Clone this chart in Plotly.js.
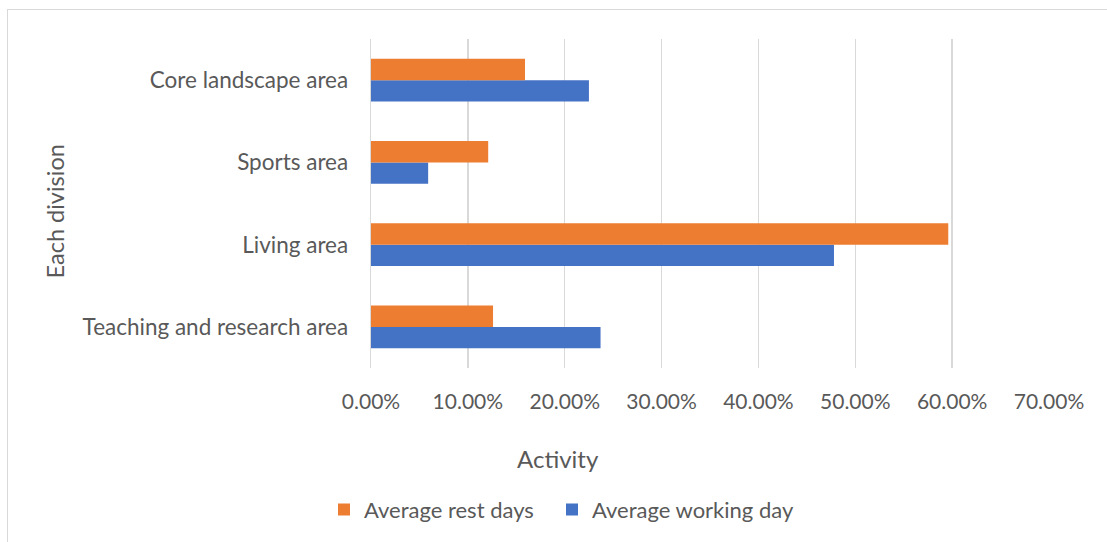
<!DOCTYPE html>
<html>
<head>
<meta charset="utf-8">
<script src="https://cdn.plot.ly/plotly-3.0.1.min.js"></script>
<style>
  html, body { margin: 0; padding: 0; background: #ffffff; }
  #wrap { position: relative; width: 1107px; height: 542px; overflow: hidden; }
  #chart { position: absolute; left: 0; top: 0; width: 1107px; height: 542px; }
  #frame { position: absolute; left: 7px; top: 9px; width: 1110px; height: 545px;
           border: 1.5px solid #d9d9d9; box-sizing: border-box; pointer-events: none; }
</style>
</head>
<body>
<div id="wrap">
  <div id="chart"></div>
  <div id="frame"></div>
</div>
<script>
// Share of activity per campus division
const categories = ['Teaching and research area', 'Living area', 'Sports area', 'Core landscape area'];
const workingDay = [0.237, 0.478, 0.059, 0.225];
const restDays   = [0.126, 0.596, 0.121, 0.159];
const seriesNames = ['Average working day', 'Average rest days'];
const xTicks = [0, 0.1, 0.2, 0.3, 0.4, 0.5, 0.6, 0.7];

// plot area in pixels
const W = 1107, H = 542;
const plotL = 371, plotR = 1049, plotT = 39, plotB = 371;
const px = x => (x - plotL) / (plotR - plotL);
const py = y => (plotB - y) / (plotB - plotT);

const FONT = 'Lato, "Liberation Sans", sans-serif';
const GREY = '#595959';

const traces = [
  {
    type: 'bar', orientation: 'h', name: seriesNames[0],
    y: categories, x: workingDay,
    marker: { color: '#4472C4' }, hoverinfo: 'x+y',
    legend: 'legend2'
  },
  {
    type: 'bar', orientation: 'h', name: seriesNames[1],
    y: categories, x: restDays,
    marker: { color: '#ED7D31' }, hoverinfo: 'x+y',
    legend: 'legend'
  }
];

// one legend box per series so both entries sit on one centred row
const legendBox = left => ({
  orientation: 'h',
  x: px(left), xanchor: 'left',
  y: py(514), yanchor: 'middle',
  font: { family: FONT, color: GREY, size: 22 },
  bgcolor: 'rgba(0,0,0,0)', borderwidth: 0
});

const layout = {
  width: W, height: H,
  margin: { l: plotL, r: W - plotR, t: plotT, b: H - plotB, pad: 0 },
  paper_bgcolor: '#ffffff', plot_bgcolor: '#ffffff',
  barmode: 'group', bargap: 0.48, bargroupgap: 0,
  font: { family: FONT, color: GREY, size: 20 },
  xaxis: {
    range: [0, 0.7], tickvals: xTicks, tickformat: '.2%',
    showgrid: true, gridcolor: '#d9d9d9', gridwidth: 1.3,
    zeroline: false, showline: false,
    ticks: 'outside', ticklen: 15, tickcolor: 'rgba(0,0,0,0)',
    tickfont: { family: FONT, color: GREY, size: 21 },
    fixedrange: true, automargin: false
  },
  yaxis: {
    type: 'category', categoryorder: 'array', categoryarray: categories,
    showgrid: false, zeroline: false,
    showline: true, linecolor: '#d9d9d9', linewidth: 1.3,
    ticks: 'outside', ticklen: 17, tickcolor: 'rgba(0,0,0,0)',
    tickfont: { family: FONT, color: GREY, size: 22.5 },
    fixedrange: true, automargin: false
  },
  showlegend: true,
  legend: legendBox(324),
  legend2: legendBox(552),
  annotations: [
    {
      text: 'Activity', xref: 'paper', yref: 'paper',
      x: px(558), y: py(462), xanchor: 'center', yanchor: 'middle',
      showarrow: false, font: { family: FONT, color: GREY, size: 24 }
    },
    {
      text: 'Each division', xref: 'paper', yref: 'paper', textangle: -90,
      x: px(55), y: py(213), xanchor: 'center', yanchor: 'middle',
      showarrow: false, font: { family: FONT, color: GREY, size: 23.5 }
    }
  ]
};

Plotly.newPlot('chart', traces, layout, { displayModeBar: false, staticPlot: true });
</script>
</body>
</html>
